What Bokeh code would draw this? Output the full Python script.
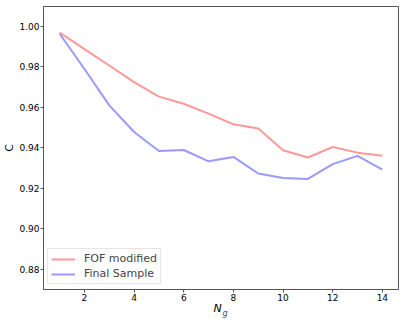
from bokeh.plotting import figure
from bokeh.models import Range1d, FixedTicker, NumeralTickFormatter, Legend, LegendItem, Label
from bokeh.embed import file_html
from bokeh.resources import INLINE

ng = [1, 2, 3, 4, 5, 6, 7, 8, 9, 10, 11, 12, 13, 14]
fof_modified = [0.997, 0.9888, 0.9807, 0.9725, 0.9653, 0.9618, 0.9569, 0.9516, 0.9495, 0.9388, 0.9352, 0.9404, 0.9376, 0.9361]
final_sample = [0.9964, 0.979, 0.961, 0.9478, 0.9384, 0.9389, 0.9333, 0.9355, 0.9273, 0.9251, 0.9246, 0.9319, 0.9360, 0.9292]
x_ticks = [2, 4, 6, 8, 10, 12, 14]
y_ticks = [0.88, 0.90, 0.92, 0.94, 0.96, 0.98, 1.00]

FONT = "DejaVu Sans"
FRAME = "#555555"

p = figure(output_backend="svg", toolbar_location=None,
           x_range=Range1d(0.35, 14.65), y_range=Range1d(0.8699, 1.0099),
           min_border_left=0, min_border_right=0, min_border_top=6, min_border_bottom=32)
p.frame_width = 355
p.frame_height = 283

p.xgrid.visible = False
p.ygrid.visible = False
p.outline_line_color = FRAME
p.outline_line_width = 1

for ax in (p.xaxis[0], p.yaxis[0]):
    ax.axis_line_color = FRAME
    ax.major_tick_line_color = FRAME
    ax.major_tick_out = 3
    ax.major_tick_in = 0
    ax.minor_tick_line_color = None
    ax.major_label_text_font = FONT
    ax.major_label_text_font_size = "9px"
    ax.major_label_text_color = "#000000"
    ax.major_label_standoff = 1
    ax.axis_label_text_font = FONT
    ax.axis_label_text_font_size = "11px"
    ax.axis_label_text_color = "#000000"
    ax.axis_label_standoff = 0

p.xaxis[0].ticker = FixedTicker(ticks=x_ticks)
p.yaxis[0].ticker = FixedTicker(ticks=y_ticks)
p.yaxis[0].formatter = NumeralTickFormatter(format="0.00")

p.yaxis[0].axis_label = "C"
p.yaxis[0].axis_label_text_font_style = "normal"
p.xaxis[0].axis_label = "N\u00a0\u00a0"
p.xaxis[0].axis_label_text_font_style = "italic"
p.xaxis[0].axis_label_standoff = -2

r1 = p.line(ng, fof_modified, line_color="#ff9999", line_width=2)
r2 = p.line(ng, final_sample, line_color="#9999ff", line_width=2)

legend = Legend(items=[LegendItem(label="FOF modified", renderers=[r1]),
                       LegendItem(label="Final Sample", renderers=[r2])],
                location=(4, 5), margin=0, padding=3, spacing=2,
                glyph_width=24, glyph_height=12, label_height=12, label_standoff=9,
                label_text_font=FONT, label_text_font_size="11px",
                border_line_color="#cccccc", background_fill_alpha=0.8)
p.add_layout(legend, "center")

# subscript "g" of the x-axis title, placed in the right side panel (not clipped)
p.add_layout(Label(x=-176, y=-24, x_units="screen", y_units="screen", text="g",
                   text_align="left", text_baseline="alphabetic", text_font_style="italic",
                   text_font=FONT, text_font_size="8px"), "right")

open("out.html", "w").write(file_html(p, INLINE))
